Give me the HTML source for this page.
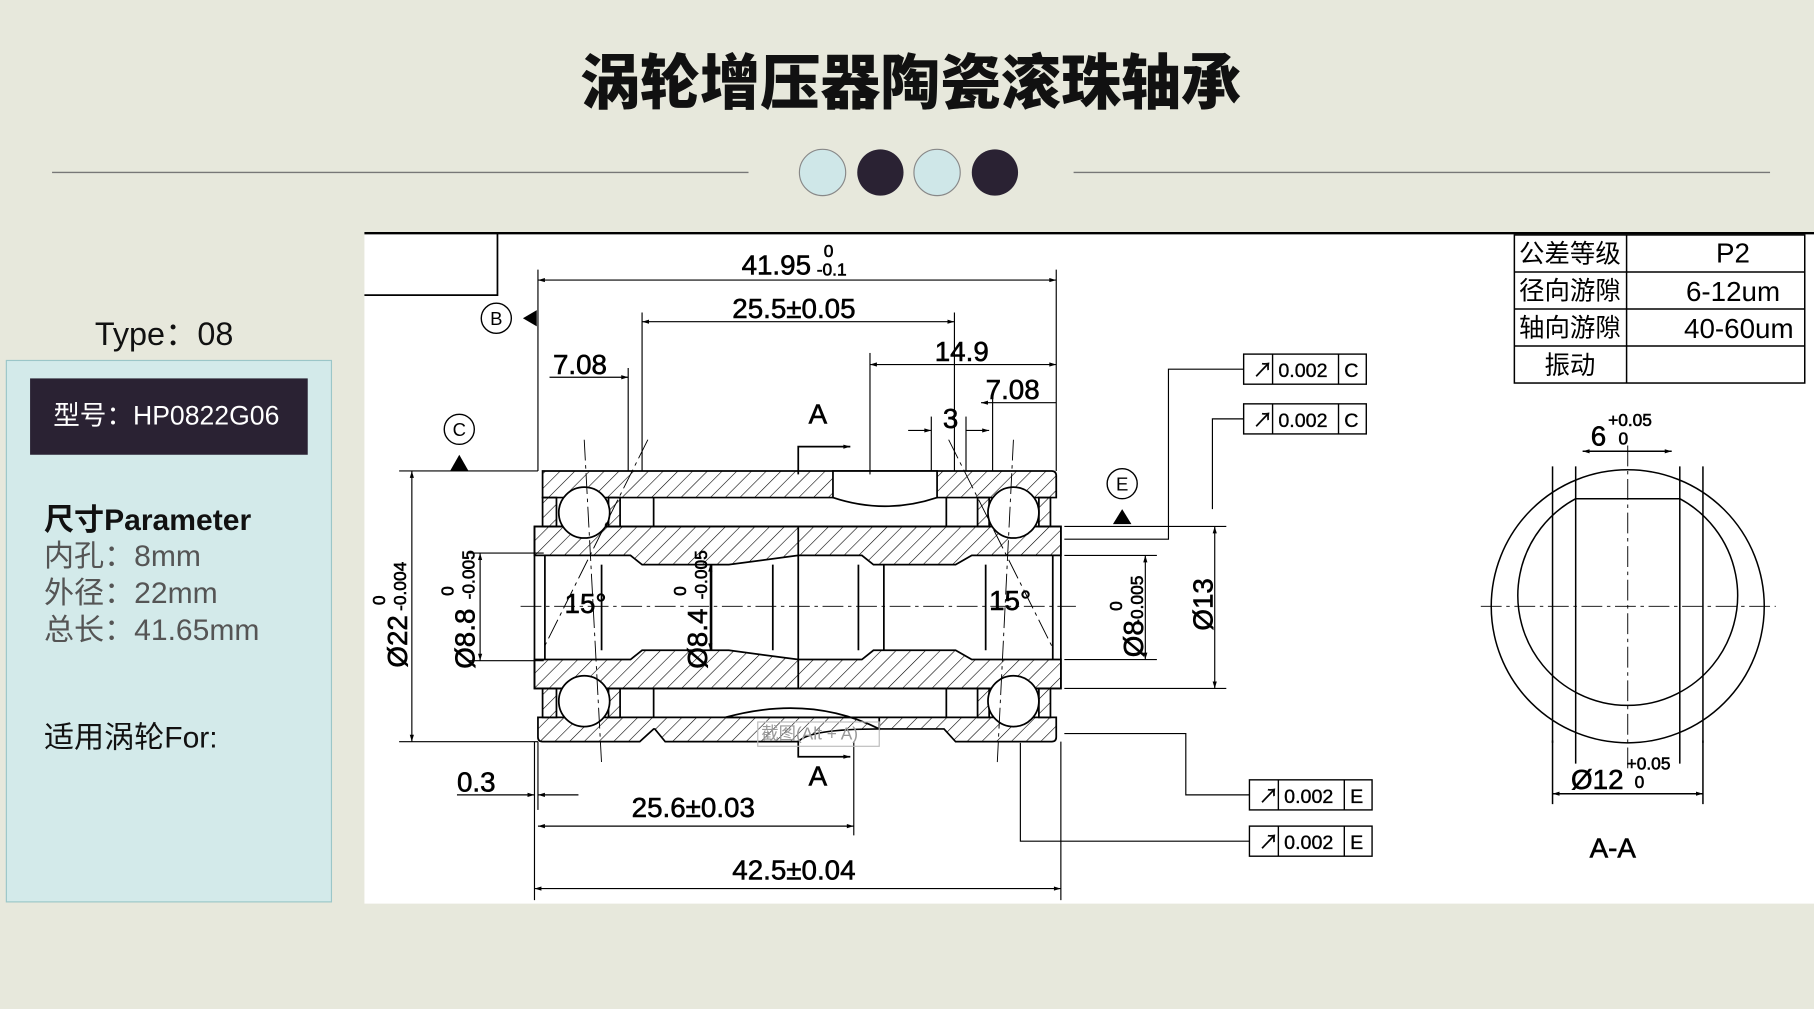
<!DOCTYPE html>
<html><head><meta charset="utf-8"><style>
html,body{margin:0;padding:0;background:#e7e8dc;}
svg{display:block}
text{font-family:"Liberation Sans","Noto Sans CJK SC",sans-serif;}
</style></head><body>
<svg width="1814" height="1009" viewBox="0 0 1568 872" xmlns="http://www.w3.org/2000/svg">
<defs>
<pattern id="h" width="9" height="9" patternUnits="userSpaceOnUse" patternTransform="rotate(45)"><line x1="0" y1="0" x2="0" y2="9" stroke="#000" stroke-width="1"/></pattern>
<marker id="a" viewBox="0 0 10 10" refX="10" refY="5" markerWidth="12" markerHeight="6" orient="auto-start-reverse" markerUnits="userSpaceOnUse"><path d="M0,2 L10,5 L0,8z" fill="#000"/></marker>
</defs>
<rect width="1568" height="872" fill="#e7e8dc"/>
<text x="787" y="90" text-anchor="middle" font-size="52" font-weight="900" fill="#111" font-family="'Noto Serif CJK SC','Noto Sans CJK SC',serif">涡轮增压器陶瓷滚珠轴承</text>
<line x1="45" y1="149" x2="647" y2="149" stroke="#777" stroke-width="1.2"/>
<line x1="928" y1="149" x2="1530" y2="149" stroke="#777" stroke-width="1.2"/>
<circle cx="711" cy="149" r="20" fill="#cfe7e8" stroke="#888"/>
<circle cx="761" cy="149" r="20" fill="#2a2233"/>
<circle cx="810" cy="149" r="20" fill="#cfe7e8" stroke="#888"/>
<circle cx="860" cy="149" r="20" fill="#2a2233"/>
<text x="82" y="298" font-size="28" fill="#111">Type：08</text>
<rect x="5.5" y="311.5" width="281" height="468" fill="#d3eaea" stroke="#9bc6c8"/>
<rect x="26" y="327" width="240" height="66" fill="#2a2233"/>
<text x="46" y="367" font-size="23" fill="#fff">型号：HP0822G06</text>
<text x="38" y="458" font-size="26" font-weight="bold" fill="#111">尺寸Parameter</text>
<text x="38" y="489" font-size="26" fill="#555">内孔：8mm</text>
<text x="38" y="521" font-size="26" fill="#555">外径：22mm</text>
<text x="38" y="553" font-size="26" fill="#555">总长：41.65mm</text>
<text x="38" y="646" font-size="26" fill="#111">适用涡轮For:</text>
<rect x="315" y="201" width="1253" height="580" fill="#fff"/>
<line x1="315" y1="201.5" x2="1568" y2="201.5" stroke="#000" stroke-width="2"/>
<polyline points="315,255 430,255 430,201" fill="none" stroke="#000" stroke-width="1.5"/>
<g stroke="#000" stroke-width="1.3" fill="none">
<rect x="1309" y="203" width="251" height="128"/>
<line x1="1309" y1="235" x2="1560" y2="235"/><line x1="1309" y1="267" x2="1560" y2="267"/><line x1="1309" y1="299" x2="1560" y2="299"/>
<line x1="1406" y1="203" x2="1406" y2="331"/>
</g>
<g font-size="22" fill="#000">
<text x="1357" y="227" text-anchor="middle">公差等级</text><text x="1498" y="227" text-anchor="middle" font-size="24">P2</text>
<text x="1357" y="259" text-anchor="middle">径向游隙</text><text x="1498" y="260" text-anchor="middle" font-size="24">6-12um</text>
<text x="1357" y="291" text-anchor="middle">轴向游隙</text><text x="1503" y="292" text-anchor="middle" font-size="24">40-60um</text>
<text x="1357" y="323" text-anchor="middle">振动</text>
</g>
<g stroke="#000" stroke-width="1.5">
<path d="M469,407 H909 Q913,407 913,411 V430 H469 Z" fill="url(#h)"/>
<path d="M720,407 H810 V430 Q765,445 720,430 Z" fill="#fff"/>
<path d="M465,620 H913 V637 Q913,641 909,641 H826 L816,630 H760 Q700,630 690,641 L575,641 L566,630 H565 L553,641 H469 Q465,641 465,637 Z" fill="url(#h)"/>
<path d="M627,620 H760 V630 Q700,600 627,620" fill="#fff"/>
<path d="M462,455 H917 V480 H840 L826,488 H755 L745,480 H690 L630,488 H555 L545,480 H462 Z" fill="url(#h)"/>
<path d="M462,570 H545 L555,562 H630 L690,570 H745 L755,562 H826 L840,570 H917 V595 H462 Z" fill="url(#h)"/>
<rect x="462" y="455" width="455" height="140" fill="none"/>
<line x1="471" y1="480" x2="471" y2="570"/><line x1="520" y1="488" x2="520" y2="562"/>
<line x1="615" y1="488" x2="615" y2="562"/><line x1="668" y1="488" x2="668" y2="562"/>
<line x1="690" y1="455" x2="690" y2="595"/><line x1="742" y1="488" x2="742" y2="562"/>
<line x1="764" y1="488" x2="764" y2="562"/><line x1="852" y1="488" x2="852" y2="562"/><line x1="910" y1="480" x2="910" y2="570"/>
<line x1="565" y1="430" x2="565" y2="455"/><line x1="818" y1="430" x2="818" y2="455"/>
<line x1="565" y1="595" x2="565" y2="620"/><line x1="818" y1="595" x2="818" y2="620"/>
<rect x="469" y="430" width="12" height="25" fill="url(#h)"/><rect x="526" y="430" width="10" height="25" fill="url(#h)"/>
<rect x="469" y="595" width="12" height="25" fill="url(#h)"/><rect x="526" y="595" width="10" height="25" fill="url(#h)"/>
<rect x="845" y="430" width="10" height="25" fill="url(#h)"/><rect x="898" y="430" width="10" height="25" fill="url(#h)"/>
<rect x="845" y="595" width="10" height="25" fill="url(#h)"/><rect x="898" y="595" width="10" height="25" fill="url(#h)"/>
<circle cx="505" cy="443" r="22" fill="#fff"/><circle cx="876" cy="443" r="22" fill="#fff"/>
<circle cx="505" cy="606" r="22" fill="#fff"/><circle cx="876" cy="606" r="22" fill="#fff"/>
</g>
<g stroke="#000" stroke-width="0.8" stroke-dasharray="18,4,3,4" fill="none">
<line x1="450" y1="524" x2="930" y2="524"/>
<line x1="505" y1="380" x2="520" y2="660"/><line x1="876" y1="380" x2="862" y2="660"/>
<line x1="560" y1="380" x2="470" y2="560"/><line x1="820" y1="380" x2="910" y2="560"/>
<line x1="1280" y1="524" x2="1535" y2="524"/><line x1="1407" y1="385" x2="1407" y2="665"/>
</g>
<g stroke="#000" stroke-width="1" fill="none">
<line x1="465" y1="233" x2="465" y2="407"/><line x1="913" y1="233" x2="913" y2="407"/>
<line x1="465" y1="242" x2="913" y2="242" marker-start="url(#a)" marker-end="url(#a)"/>
<line x1="555" y1="270" x2="555" y2="407"/><line x1="825" y1="270" x2="825" y2="407"/>
<line x1="555" y1="278" x2="825" y2="278" marker-start="url(#a)" marker-end="url(#a)"/>
<line x1="752" y1="305" x2="752" y2="410"/>
<line x1="752" y1="315" x2="913" y2="315" marker-start="url(#a)" marker-end="url(#a)"/>
<line x1="475" y1="326" x2="543" y2="326" marker-end="url(#a)"/><line x1="543" y1="318" x2="543" y2="407"/>
<line x1="848" y1="348" x2="913" y2="348" marker-start="url(#a)"/><line x1="858" y1="340" x2="858" y2="407"/>
<line x1="785" y1="372" x2="805" y2="372" marker-end="url(#a)"/><line x1="855" y1="372" x2="835" y2="372" marker-start="url(#a)"/>
<line x1="805" y1="360" x2="805" y2="407"/><line x1="835" y1="360" x2="835" y2="407"/>
<line x1="345" y1="407" x2="465" y2="407"/><line x1="345" y1="641" x2="465" y2="641"/>
<line x1="356" y1="407" x2="356" y2="641" marker-start="url(#a)" marker-end="url(#a)"/>
<line x1="405" y1="478" x2="470" y2="478"/><line x1="405" y1="571" x2="470" y2="571"/>
<line x1="415" y1="478" x2="415" y2="571" marker-start="url(#a)" marker-end="url(#a)"/>
<line x1="614" y1="488" x2="614" y2="562" marker-start="url(#a)" marker-end="url(#a)"/>
<line x1="920" y1="480" x2="1000" y2="480"/><line x1="920" y1="570" x2="1000" y2="570"/>
<line x1="990" y1="480" x2="990" y2="570" marker-start="url(#a)" marker-end="url(#a)"/>
<line x1="920" y1="455" x2="1060" y2="455"/><line x1="920" y1="595" x2="1060" y2="595"/>
<line x1="1050" y1="455" x2="1050" y2="595" marker-start="url(#a)" marker-end="url(#a)"/>
<line x1="462" y1="641" x2="462" y2="778"/><line x1="917" y1="641" x2="917" y2="778"/>
<line x1="738" y1="641" x2="738" y2="722"/>
<line x1="462" y1="768" x2="917" y2="768" marker-start="url(#a)" marker-end="url(#a)"/>
<line x1="465" y1="714" x2="738" y2="714" marker-start="url(#a)" marker-end="url(#a)"/>
<line x1="465" y1="641" x2="465" y2="700"/>
<line x1="395" y1="687" x2="462" y2="687" marker-end="url(#a)"/><line x1="500" y1="687" x2="465" y2="687" marker-end="url(#a)"/>
<polyline points="690,410 690,386 735,386" stroke-width="1.5" marker-end="url(#a)"/>
<polyline points="690,640 690,654 735,654" stroke-width="1.5" marker-end="url(#a)"/>
<polyline points="1075,319 1010,319 1010,466 920,466"/>
<polyline points="1075,362 1048,362 1048,440"/>
<polyline points="1080,687 1025,687 1025,634 920,634"/>
<polyline points="1080,727 882,727 882,642"/>
<line x1="462" y1="275" x2="455" y2="275"/>
</g>
<path d="M452,275 L464,268 L464,282z" fill="#000"/>
<path d="M389,407 L397,393 L405,407z" fill="#000"/>
<path d="M962,453 L970,440 L978,453z" fill="#000"/>
<g fill="none" stroke="#000" stroke-width="1.2">
<circle cx="429" cy="275" r="13"/><circle cx="397" cy="371" r="13"/><circle cx="970" cy="418" r="13"/>
</g>
<g font-size="16" fill="#000" text-anchor="middle"><text x="429" y="281">B</text><text x="397" y="377">C</text><text x="970" y="424">E</text></g>
<g stroke="#000" stroke-width="1.2" fill="#fff">
<rect x="1075" y="306" width="106" height="26"/><line x1="1100" y1="306" x2="1100" y2="332"/><line x1="1157" y1="306" x2="1157" y2="332"/>
<rect x="1075" y="349" width="106" height="26"/><line x1="1100" y1="349" x2="1100" y2="375"/><line x1="1157" y1="349" x2="1157" y2="375"/>
<rect x="1080" y="674" width="106" height="26"/><line x1="1105" y1="674" x2="1105" y2="700"/><line x1="1162" y1="674" x2="1162" y2="700"/>
<rect x="1080" y="714" width="106" height="26"/><line x1="1105" y1="714" x2="1105" y2="740"/><line x1="1162" y1="714" x2="1162" y2="740"/>
</g>
<g font-size="17" fill="#000" stroke="#000" stroke-width="0.3">
<text x="1083" y="326">↗</text><text x="1105" y="326">0.002</text><text x="1162" y="326">C</text>
<text x="1083" y="369">↗</text><text x="1105" y="369">0.002</text><text x="1162" y="369">C</text>
<text x="1088" y="694">↗</text><text x="1110" y="694">0.002</text><text x="1167" y="694">E</text>
<text x="1088" y="734">↗</text><text x="1110" y="734">0.002</text><text x="1167" y="734">E</text>
</g>
<g font-size="24" fill="#000" stroke="#000" stroke-width="0.5">
<text x="641" y="237">41.95</text><text x="712" y="222" font-size="15">0</text><text x="706" y="238" font-size="15">-0.1</text>
<text x="633" y="275">25.5±0.05</text>
<text x="808" y="312">14.9</text>
<text x="478" y="323">7.08</text>
<text x="852" y="345">7.08</text>
<text x="815" y="370">3</text>
<text x="699" y="366">A</text><text x="699" y="679">A</text>
<text x="488" y="530">15°</text><text x="855" y="527">15°</text>
<text x="395" y="684">0.3</text>
<text x="546" y="706">25.6±0.03</text>
<text x="633" y="760">42.5±0.04</text>
<text transform="translate(352,577) rotate(-90)">Ø22</text>
<text transform="translate(351,528) rotate(-90)" font-size="15">-0.004</text>
<text transform="translate(333,523) rotate(-90)" font-size="15">0</text>
<text transform="translate(410,578) rotate(-90)">Ø8.8</text>
<text transform="translate(410,518) rotate(-90)" font-size="15">-0.005</text>
<text transform="translate(392,515) rotate(-90)" font-size="15">0</text>
<text transform="translate(611,578) rotate(-90)">Ø8.4</text>
<text transform="translate(611,518) rotate(-90)" font-size="15">-0.005</text>
<text transform="translate(593,515) rotate(-90)" font-size="15">0</text>
<text transform="translate(988,568) rotate(-90)">Ø8</text>
<text transform="translate(988,540) rotate(-90)" font-size="15">-0.005</text>
<text transform="translate(970,528) rotate(-90)" font-size="15">0</text>
<text transform="translate(1048,545) rotate(-90)">Ø13</text>
</g>
<text x="658" y="639" font-size="15" fill="#999">截图(Alt + A)</text>
<rect x="655" y="624" width="105" height="21" fill="none" stroke="#bbb"/>
<g stroke="#000" stroke-width="1.3" fill="none">
<circle cx="1407" cy="524" r="118"/>
<path d="M1362,431 A95,95 0 1 0 1452,431"/>
<path d="M1342,403 V642 M1472,403 V642"/>
<line x1="1362" y1="403" x2="1362" y2="660"/><line x1="1452" y1="403" x2="1452" y2="660"/>
<line x1="1362" y1="431" x2="1452" y2="431"/>
<line x1="1368" y1="390" x2="1445" y2="390" marker-start="url(#a)" marker-end="url(#a)"/>
<line x1="1342" y1="686" x2="1472" y2="686" marker-start="url(#a)" marker-end="url(#a)"/>
<line x1="1342" y1="640" x2="1342" y2="695"/><line x1="1472" y1="640" x2="1472" y2="695"/>
</g>
<g font-size="24" fill="#000" stroke="#000" stroke-width="0.5">
<text x="1375" y="385">6</text><text x="1390" y="368" font-size="15">+0.05</text><text x="1399" y="384" font-size="15">0</text>
<text x="1358" y="682">Ø12</text><text x="1406" y="665" font-size="15">+0.05</text><text x="1413" y="681" font-size="15">0</text>
<text x="1374" y="741">A-A</text>
</g>
</svg>
</body></html>
